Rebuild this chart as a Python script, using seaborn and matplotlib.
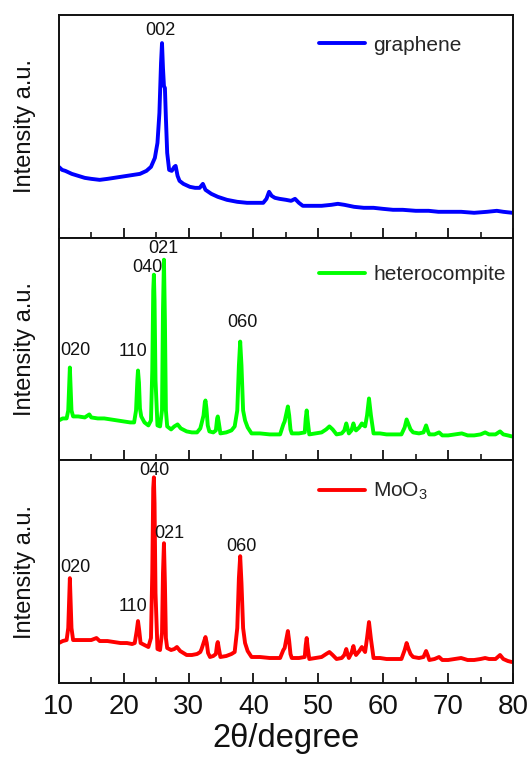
import seaborn as sns
import matplotlib.pyplot as plt
from matplotlib.ticker import MultipleLocator

# 2theta (degree) and intensity (a.u.)
graphene_x = [10.0, 10.5, 11.0, 12.0, 13.0, 14.0, 15.0, 16.3, 17.5, 18.5, 19.5, 20.5, 21.5, 22.5,
              23.5, 24.2, 24.8, 25.2, 25.5, 25.75, 25.9, 26.05, 26.2, 26.35, 26.5, 26.7, 27.0,
              27.4, 27.8, 28.0, 28.3, 28.6, 29.2, 30.2, 31.0, 31.7, 32.2, 32.6, 33.5, 34.5, 35.9,
              37.5, 39.0, 40.5, 41.5, 42.0, 42.4, 42.8, 43.3, 44.0, 45.0, 45.8, 46.4, 47.0, 47.6,
              49.0, 50.5, 52.0, 53.0, 54.0, 55.5, 57.0, 58.5, 59.9, 61.5, 63.0, 65.0, 67.0, 68.5,
              70.3, 72.0, 74.0, 76.0, 77.5, 78.5, 79.9]
graphene_y = [71, 68, 67, 64, 62, 60, 59, 58, 59, 60, 61, 62, 63, 64,
              67, 71, 80, 95, 125, 175, 195, 170, 152, 150, 120, 85, 68,
              67, 71, 72, 62, 57, 54, 51, 50, 50, 54, 48, 44, 41, 38,
              36, 35, 35, 35, 39, 46, 42, 40, 39, 38, 37, 39, 35, 32,
              32, 32, 33, 34, 33, 31, 30, 30, 29, 28, 28, 27, 27, 26,
              26, 26, 25, 26, 27, 26, 25]

hetero_x = [10.0, 10.6, 11.2, 11.45, 11.6, 11.7, 11.8, 11.95, 12.2, 13.0, 14.0, 14.7, 15.0, 16.0,
            17.0, 18.0, 19.0, 20.0, 21.0, 21.6, 21.9, 22.1, 22.2, 22.35, 22.5, 22.7, 23.2, 23.8,
            24.2, 24.4, 24.55, 24.65, 24.75, 24.9, 25.2, 25.6, 25.9, 26.05, 26.2, 26.35, 26.5,
            26.7, 27.3, 27.8, 28.3, 28.8, 29.7, 30.5, 31.3, 31.8, 32.0, 32.3, 32.5, 32.6, 32.75,
            32.95, 33.2, 33.8, 34.2, 34.4, 34.5, 34.65, 34.9, 35.8, 36.6, 37.1, 37.5, 37.75, 37.95,
            38.15, 38.4, 38.7, 39.1, 39.7, 41.0, 42.5, 44.1, 44.6, 44.8, 45.1, 45.3, 45.5, 45.7,
            45.9, 47.0, 47.9, 48.05, 48.2, 48.35, 48.6, 49.5, 50.5, 51.2, 51.7, 52.2, 52.8, 53.6,
            54.0, 54.3, 54.5, 54.7, 55.1, 55.4, 55.6, 55.8, 56.3, 56.7, 57.0, 57.2, 57.5, 57.8,
            58.1, 58.5, 59.5, 60.5, 61.5, 62.8, 63.3, 63.6, 63.9, 64.2, 64.6, 65.5, 66.2, 66.6,
            66.9, 67.1, 67.9, 68.6, 69.1, 70.0, 71.0, 72.1, 73.0, 74.0, 75.0, 75.7, 76.3, 77.3,
            78.0, 78.5, 79.2, 79.8]
hetero_y = [40, 42, 42, 50, 75, 93, 75, 50, 44, 44, 43, 46, 43, 42,
            42, 41, 40, 39, 38, 38, 50, 80, 90, 78, 52, 44, 38, 35,
            40, 90, 170, 186, 160, 80, 35, 34, 50, 150, 201, 140, 50,
            34, 31, 34, 36, 32, 29, 28, 28, 32, 37, 45, 58, 60, 52,
            35, 29, 28, 30, 42, 44, 38, 27, 28, 30, 34, 50, 95, 119,
            95, 50, 40, 33, 27, 27, 26, 26, 36, 39, 48, 54, 45, 31,
            27, 27, 28, 42, 50, 40, 26, 27, 28, 31, 34, 31, 26, 27,
            30, 37, 32, 27, 30, 37, 32, 30, 33, 37, 35, 34, 45, 62,
            45, 27, 27, 26, 26, 26, 33, 41, 36, 31, 28, 27, 28, 35,
            29, 26, 26, 28, 25, 25, 26, 27, 25, 25, 26, 28, 26, 26,
            29, 26, 25, 24]

moo3_x = [10.0, 10.6, 11.2, 11.45, 11.6, 11.7, 11.8, 11.95, 12.2, 13.0, 14.0, 15.0, 15.8, 16.3,
          17.5, 18.5, 19.5, 20.5, 21.3, 21.7, 22.0, 22.2, 22.4, 22.6, 23.2, 23.8, 24.2, 24.4,
          24.55, 24.65, 24.75, 24.9, 25.2, 25.6, 25.9, 26.05, 26.2, 26.35, 26.5, 26.7, 27.3,
          27.8, 28.2, 28.7, 29.7, 30.5, 31.3, 31.8, 32.0, 32.3, 32.6, 32.8, 33.0, 33.3, 33.8,
          34.2, 34.4, 34.5, 34.65, 34.9, 35.8, 36.6, 37.1, 37.5, 37.75, 37.95, 38.15, 38.4, 38.7,
          39.1, 39.7, 41.0, 42.5, 44.1, 44.6, 44.8, 45.1, 45.3, 45.5, 45.7, 45.9, 47.0, 47.9,
          48.05, 48.2, 48.35, 48.6, 49.5, 50.5, 51.2, 51.7, 52.2, 52.8, 53.6, 54.0, 54.3, 54.5,
          54.7, 55.1, 55.4, 55.6, 55.8, 56.3, 56.7, 57.0, 57.2, 57.5, 57.8, 58.1, 58.5, 59.5,
          60.5, 61.5, 62.8, 63.3, 63.6, 63.9, 64.2, 64.6, 65.5, 66.2, 66.6, 66.9, 67.1, 67.9,
          68.6, 69.1, 70.0, 71.0, 72.0, 73.0, 74.0, 75.0, 75.7, 76.3, 77.3, 78.0, 78.5, 79.2, 79.8]
moo3_y = [40, 42, 43, 55, 85, 105, 85, 55, 43, 43, 43, 43, 45, 42,
          42, 41, 40, 40, 39, 40, 52, 62, 52, 40, 38, 36, 45, 110,
          195, 206, 180, 90, 34, 33, 50, 110, 140, 100, 45, 35, 33,
          34, 36, 32, 28, 28, 29, 31, 34, 40, 46, 40, 30, 26, 27,
          29, 39, 41, 35, 26, 27, 29, 31, 55, 105, 127, 100, 55, 40,
          32, 26, 26, 25, 25, 33, 35, 45, 52, 42, 29, 25, 25, 26,
          38, 45, 36, 24, 25, 26, 29, 31, 28, 24, 25, 28, 34, 29,
          25, 30, 37, 31, 28, 32, 36, 33, 31, 45, 61, 44, 25, 25,
          24, 24, 24, 33, 40, 34, 29, 26, 25, 26, 32, 27, 23, 24,
          26, 23, 23, 24, 25, 23, 23, 24, 25, 24, 24, 28, 24, 22, 21]

series_names = ['graphene', 'heterocompite', 'MoO$_3$']
series_x = [graphene_x, hetero_x, moo3_x]
series_y = [graphene_y, hetero_y, moo3_y]
series_colors = ['#0000ff', '#00ff00', '#ff0000']

# peak index labels: (text, x, y) for each panel
peak_labels = [
    [('002', 25.7, 208)],
    [('020', 12.6, 110), ('110', 21.5, 109), ('040', 23.6, 193),
     ('021', 26.1, 212), ('060', 38.3, 138)],
    [('020', 12.6, 116), ('110', 21.5, 77), ('040', 24.8, 213),
     ('021', 27.1, 150), ('060', 38.2, 137)],
]

sns.set_style('white')
plt.rcParams['font.family'] = ['Liberation Sans', 'DejaVu Sans']
plt.rcParams['mathtext.fontset'] = 'custom'
plt.rcParams['mathtext.rm'] = 'Liberation Sans'
plt.rcParams['mathtext.default'] = 'regular'

fig, axes = plt.subplots(3, 1, figsize=(5.3, 7.58), dpi=100, sharex=True)
fig.subplots_adjust(left=0.111, right=0.968, bottom=0.099, top=0.980, hspace=0)

legend_y = [0.865, 0.835, 0.86]

for i, ax in enumerate(axes):
    sns.lineplot(x=series_x[i], y=series_y[i], ax=ax, color=series_colors[i],
                 linewidth=2.8, label=series_names[i], estimator=None, sort=False)
    for txt, tx, ty in peak_labels[i]:
        ax.text(tx, ty, txt, ha='center', va='center', fontsize=13, color='#111111')

    ax.set_xlim(10, 80)
    ax.set_ylim(0, 223)
    ax.set_yticks([])
    ax.set_ylabel('Intensity a.u.', fontsize=17, color='#111111')
    ax.yaxis.set_label_coords(-0.051, 0.5)

    ax.xaxis.set_major_locator(MultipleLocator(10))
    ax.xaxis.set_minor_locator(MultipleLocator(5))
    ax.tick_params(axis='x', which='major', direction='in', length=7, width=1.3,
                   bottom=True, top=False, labelsize=20, pad=8, colors='#111111')
    ax.tick_params(axis='x', which='minor', direction='in', length=4, width=1.3,
                   bottom=True, top=False)
    for s in ax.spines.values():
        s.set_linewidth(1.4)
        s.set_color('#111111')

    ax.legend(loc='center left', bbox_to_anchor=(0.573, legend_y[i]), frameon=False,
              fontsize=15, handlelength=2.2, handletextpad=0.4, borderpad=0,
              borderaxespad=0)

axes[-1].set_xlabel('2θ/degree', fontsize=23.5, labelpad=2, color='#111111')

fig.savefig('out.png', dpi=100)
